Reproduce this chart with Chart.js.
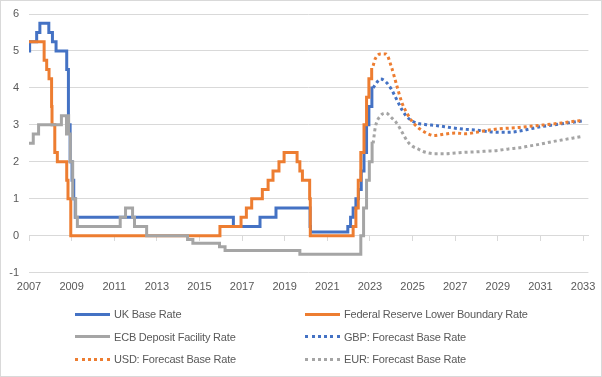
<!DOCTYPE html>
<html>
<head>
<meta charset="utf-8">
<script src="https://cdn.jsdelivr.net/npm/chart.js@4.4.1/dist/chart.umd.min.js"></script>
<style>
  body { margin: 0; background: #fff; }
  #wrap { position: relative; width: 600px; height: 375px; border: 1px solid #d9d9d9; background: #fff;
          font-family: 'Liberation Sans', Arial, sans-serif; }
  #chart { position: absolute; left: 0; top: 0; }
  #legend { position: absolute; left: 74px; top: 302px; display: grid;
            grid-template-columns: 230px 240px; grid-auto-rows: 22.5px;
            font-size: 11px; color: #595959; letter-spacing: -0.2px; }
  .item { display: flex; align-items: center; white-space: nowrap; }
  .swatch { width: 35px; height: 0; margin-right: 4px; border-top-width: 3px; border-top-style: solid; }
</style>
</head>
<body>
<div id="wrap">
  <canvas id="chart" width="600" height="375"></canvas>
  <div id="legend"></div>
</div>
<script>
// axis ticks
const yearTicks = [2007, 2009, 2011, 2013, 2015, 2017, 2019, 2021, 2023, 2025, 2027, 2029, 2031, 2033];
const rateMin = -1, rateMax = 6;

// policy rates, as change points (decimal year, %)
const ukYears = [2007.0, 2007.03, 2007.36, 2007.51, 2007.93, 2008.10, 2008.27, 2008.77, 2008.85, 2008.93,
  2009.02, 2009.10, 2009.17, 2016.59, 2017.84, 2018.59, 2020.19, 2020.21, 2021.96, 2022.09, 2022.21,
  2022.34, 2022.46, 2022.59, 2022.72, 2022.84, 2022.95, 2023.09, 2023.15];
const ukRates = [5.0, 5.25, 5.5, 5.75, 5.5, 5.25, 5.0, 4.5, 3.0, 2.0,
  1.5, 1.0, 0.5, 0.25, 0.5, 0.75, 0.25, 0.1, 0.25, 0.5, 0.75,
  1.0, 1.25, 1.75, 2.25, 3.0, 3.5, 4.0, 4.0];

const fedYears = [2007.0, 2007.71, 2007.83, 2007.94, 2008.06, 2008.08, 2008.21, 2008.33, 2008.77, 2008.83,
  2008.96, 2015.96, 2016.95, 2017.2, 2017.45, 2017.95, 2018.22, 2018.45, 2018.73, 2018.97, 2019.58,
  2019.71, 2019.83, 2020.17, 2020.2, 2022.21, 2022.34, 2022.45, 2022.57, 2022.72, 2022.84, 2022.95,
  2023.08, 2023.15];
const fedRates = [5.25, 4.75, 4.5, 4.25, 3.5, 3.0, 2.25, 2.0, 1.5, 1.0,
  0, 0.25, 0.5, 0.75, 1.0, 1.25, 1.5, 1.75, 2.0, 2.25, 2.0,
  1.75, 1.5, 1.0, 0, 0.25, 0.75, 1.5, 2.25, 3.0, 3.75, 4.25,
  4.5, 4.5];

const ecbYears = [2007.0, 2007.2, 2007.45, 2008.52, 2008.76, 2008.8, 2008.86, 2008.94, 2009.05, 2009.19,
  2009.27, 2011.28, 2011.53, 2011.86, 2011.95, 2012.52, 2014.44, 2014.69, 2015.94, 2016.2,
  2019.71, 2022.57, 2022.7, 2022.84, 2022.97, 2023.1, 2023.15];
const ecbRates = [2.5, 2.75, 3.0, 3.25, 2.75, 3.25, 2.75, 2.0, 1.0, 0.5,
  0.25, 0.5, 0.75, 0.5, 0.25, 0, -0.1, -0.2, -0.3, -0.4,
  -0.5, 0, 0.75, 1.5, 2.0, 2.5, 2.5];

// forecasts
const fcYears = [2023.15, 2023.25, 2023.5, 2023.75, 2024, 2024.25, 2024.5, 2024.75, 2025, 2025.25,
  2025.5, 2025.75, 2026, 2026.5, 2027, 2027.5, 2028, 2028.5, 2029, 2029.5,
  2030, 2030.5, 2031, 2031.5, 2032, 2032.5, 2033];
const gbpForecast = [4.0, 4.09, 4.24, 4.16, 3.97, 3.69, 3.41, 3.21, 3.10, 3.04,
  3.02, 3.0, 2.99, 2.95, 2.91, 2.88, 2.86, 2.82, 2.80, 2.80,
  2.83, 2.89, 2.95, 2.99, 3.03, 3.07, 3.11];
const usdForecast = [4.6, 4.79, 4.92, 4.92, 4.58, 4.08, 3.6, 3.3, 3.08, 2.93,
  2.83, 2.75, 2.71, 2.75, 2.78, 2.76, 2.80, 2.85, 2.89, 2.91,
  2.93, 2.96, 2.99, 3.02, 3.05, 3.09, 3.12];
const eurForecast = [2.5, 2.93, 3.25, 3.32, 3.2, 3.05, 2.81, 2.56, 2.42, 2.35,
  2.28, 2.24, 2.22, 2.22, 2.24, 2.26, 2.27, 2.29, 2.31, 2.35,
  2.38, 2.43, 2.48, 2.54, 2.59, 2.64, 2.69];

const BLUE = '#4472C4', ORANGE = '#ED7D31', GREY = '#A5A5A5';
const TEXT = '#595959', GRID = '#D9D9D9';
const pts = (xs, ys) => xs.map((x, i) => ({ x: x, y: ys[i] }));
const setYearTicks = s => { s.ticks = yearTicks.map(v => ({ value: v })); };

Chart.defaults.font.family = "'Liberation Sans', Arial, sans-serif";
Chart.defaults.font.size = 11;
Chart.defaults.color = TEXT;

const hist = { stepped: true };
const fc = { borderDash: [3, 3], cubicInterpolationMode: 'monotone' };

const chart = new Chart(document.getElementById('chart'), {
  type: 'line',
  data: {
    datasets: [
      Object.assign({ label: 'UK Base Rate', data: pts(ukYears, ukRates), borderColor: BLUE, order: 3 }, hist),
      Object.assign({ label: 'Federal Reserve Lower Boundary Rate', data: pts(fedYears, fedRates), borderColor: ORANGE, order: 2 }, hist),
      Object.assign({ label: 'ECB Deposit Facility Rate', data: pts(ecbYears, ecbRates), borderColor: GREY, order: 1 }, hist),
      Object.assign({ label: 'GBP: Forecast Base Rate', data: pts(fcYears, gbpForecast), borderColor: BLUE, order: 6 }, fc),
      Object.assign({ label: 'USD: Forecast Base Rate', data: pts(fcYears, usdForecast), borderColor: ORANGE, order: 5 }, fc),
      Object.assign({ label: 'EUR: Forecast Base Rate', data: pts(fcYears, eurForecast), borderColor: GREY, order: 4 }, fc),
    ],
  },
  options: {
    responsive: false,
    animation: false,
    layout: { padding: { top: 13, right: 12.6, left: 0, bottom: 0 } },
    elements: {
      point: { radius: 0 },
      line: { borderWidth: 3, fill: false, borderCapStyle: 'butt' },
    },
    plugins: { legend: { display: false }, tooltip: { enabled: false } },
    scales: {
      x: {
        type: 'linear', min: 2007, max: 2033.25,
        afterBuildTicks: setYearTicks,
        afterFit: s => { s.height = 103.3; s.paddingLeft = 0; s.paddingRight = 0; },
        grid: { display: false, drawTicks: false },
        border: { display: false },
        ticks: { padding: 8, autoSkip: false, maxRotation: 0, callback: v => String(v) },
      },
      x0: {
        axis: 'x', type: 'linear', position: { y: 0 }, min: 2007, max: 2033.25,
        afterBuildTicks: setYearTicks,
        afterFit: s => { s.height = 0; s.paddingLeft = 0; s.paddingRight = 0; },
        grid: { drawOnChartArea: false, color: GRID, tickLength: 5 },
        border: { color: GRID },
        ticks: { display: false },
      },
      y: {
        min: rateMin, max: rateMax,
        afterFit: s => { s.width = 28; s.paddingTop = 0; s.paddingBottom = 0; },
        grid: { color: GRID, drawTicks: false },
        border: { display: false },
        ticks: { stepSize: 1, padding: 10 },
      },
    },
  },
});

// two-column legend, same order as the datasets
const legend = document.getElementById('legend');
chart.data.datasets.forEach(ds => {
  const item = document.createElement('div');
  item.className = 'item';
  const sw = document.createElement('span');
  sw.className = 'swatch';
  sw.style.borderTopColor = ds.borderColor;
  if (ds.borderDash) sw.style.borderTopStyle = 'dotted';
  const txt = document.createElement('span');
  txt.textContent = ds.label;
  item.appendChild(sw);
  item.appendChild(txt);
  legend.appendChild(item);
});
</script>
</body>
</html>
